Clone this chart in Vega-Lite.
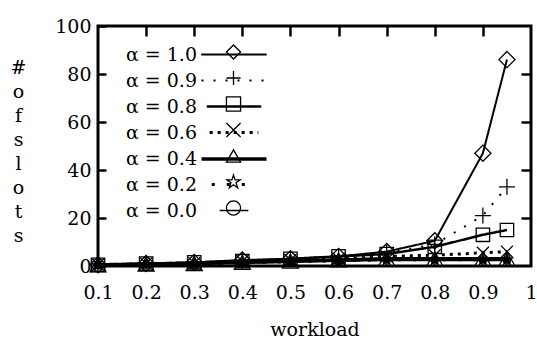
{
  "$schema": "https://vega.github.io/schema/vega-lite/v6.json",
  "width": 433,
  "height": 240,
  "autosize": "none",
  "padding": {"left": 98, "top": 26, "right": 6, "bottom": 77},
  "background": "white",
  "config": {
    "view": {"stroke": "black", "strokeWidth": 3},
    "font": "DejaVu Serif",
    "axis": {"grid": false, "domain": false, "labelFont": "DejaVu Serif", "titleFont": "DejaVu Serif", "labelFontSize": 19, "titleFontSize": 19, "labelColor": "black", "titleColor": "black", "titleFontWeight": "normal", "tickColor": "black", "tickWidth": 2.5},
    "legend": {"labelFont": "DejaVu Serif", "labelFontSize": 19, "labelColor": "black"}
  },
  "data": {"values": [
    {"x":0.1,"y":0.5,"alpha":"α = 1.0"},{"x":0.2,"y":1,"alpha":"α = 1.0"},{"x":0.3,"y":1.5,"alpha":"α = 1.0"},{"x":0.4,"y":2.5,"alpha":"α = 1.0"},{"x":0.5,"y":3,"alpha":"α = 1.0"},{"x":0.6,"y":4,"alpha":"α = 1.0"},{"x":0.7,"y":6,"alpha":"α = 1.0"},{"x":0.8,"y":10.5,"alpha":"α = 1.0"},{"x":0.9,"y":47,"alpha":"α = 1.0"},{"x":0.95,"y":86,"alpha":"α = 1.0"},
    {"x":0.1,"y":0.5,"alpha":"α = 0.9"},{"x":0.2,"y":1,"alpha":"α = 0.9"},{"x":0.3,"y":1.5,"alpha":"α = 0.9"},{"x":0.4,"y":2,"alpha":"α = 0.9"},{"x":0.5,"y":3,"alpha":"α = 0.9"},{"x":0.6,"y":4,"alpha":"α = 0.9"},{"x":0.7,"y":5.5,"alpha":"α = 0.9"},{"x":0.8,"y":9,"alpha":"α = 0.9"},{"x":0.9,"y":21,"alpha":"α = 0.9"},{"x":0.95,"y":33,"alpha":"α = 0.9"},
    {"x":0.1,"y":0.5,"alpha":"α = 0.8"},{"x":0.2,"y":1,"alpha":"α = 0.8"},{"x":0.3,"y":1.5,"alpha":"α = 0.8"},{"x":0.4,"y":2,"alpha":"α = 0.8"},{"x":0.5,"y":3,"alpha":"α = 0.8"},{"x":0.6,"y":4,"alpha":"α = 0.8"},{"x":0.7,"y":5,"alpha":"α = 0.8"},{"x":0.8,"y":8,"alpha":"α = 0.8"},{"x":0.9,"y":13,"alpha":"α = 0.8"},{"x":0.95,"y":15,"alpha":"α = 0.8"},
    {"x":0.1,"y":0.5,"alpha":"α = 0.6"},{"x":0.2,"y":1,"alpha":"α = 0.6"},{"x":0.3,"y":1.2,"alpha":"α = 0.6"},{"x":0.4,"y":2,"alpha":"α = 0.6"},{"x":0.5,"y":2.5,"alpha":"α = 0.6"},{"x":0.6,"y":3,"alpha":"α = 0.6"},{"x":0.7,"y":4,"alpha":"α = 0.6"},{"x":0.8,"y":4.5,"alpha":"α = 0.6"},{"x":0.9,"y":5.5,"alpha":"α = 0.6"},{"x":0.95,"y":6,"alpha":"α = 0.6"},
    {"x":0.1,"y":0.5,"alpha":"α = 0.4"},{"x":0.2,"y":0.8,"alpha":"α = 0.4"},{"x":0.3,"y":1,"alpha":"α = 0.4"},{"x":0.4,"y":1.5,"alpha":"α = 0.4"},{"x":0.5,"y":2,"alpha":"α = 0.4"},{"x":0.6,"y":2.5,"alpha":"α = 0.4"},{"x":0.7,"y":3,"alpha":"α = 0.4"},{"x":0.8,"y":3,"alpha":"α = 0.4"},{"x":0.9,"y":3,"alpha":"α = 0.4"},{"x":0.95,"y":3,"alpha":"α = 0.4"},
    {"x":0.1,"y":0.4,"alpha":"α = 0.2"},{"x":0.2,"y":0.7,"alpha":"α = 0.2"},{"x":0.3,"y":1,"alpha":"α = 0.2"},{"x":0.4,"y":1.3,"alpha":"α = 0.2"},{"x":0.5,"y":1.8,"alpha":"α = 0.2"},{"x":0.6,"y":2.2,"alpha":"α = 0.2"},{"x":0.7,"y":2.6,"alpha":"α = 0.2"},{"x":0.8,"y":2.6,"alpha":"α = 0.2"},{"x":0.9,"y":2.6,"alpha":"α = 0.2"},{"x":0.95,"y":2.6,"alpha":"α = 0.2"},
    {"x":0.1,"y":0.3,"alpha":"α = 0.0"},{"x":0.2,"y":0.6,"alpha":"α = 0.0"},{"x":0.3,"y":0.9,"alpha":"α = 0.0"},{"x":0.4,"y":1.2,"alpha":"α = 0.0"},{"x":0.5,"y":1.6,"alpha":"α = 0.0"},{"x":0.6,"y":2,"alpha":"α = 0.0"},{"x":0.7,"y":2.3,"alpha":"α = 0.0"},{"x":0.8,"y":2.3,"alpha":"α = 0.0"},{"x":0.9,"y":2.3,"alpha":"α = 0.0"},{"x":0.95,"y":2.3,"alpha":"α = 0.0"}
  ]},
  "resolve": {"axis": {"x": "independent", "y": "independent"}},
  "layer": [
    {
      "mark": {"type": "line", "color": "black"},
      "encoding": {
        "x": {"field": "x", "type": "quantitative", "scale": {"domain": [0.1, 1], "nice": false, "zero": false},
              "axis": {"orient": "bottom", "values": [0.1,0.2,0.3,0.4,0.5,0.6,0.7,0.8,0.9,1], "ticks": false, "labelPadding": 17, "labelExpr": "datum.value == 1 ? '1' : format(datum.value, '.1f')", "labelFlush": false, "title": "workload", "titlePadding": 18}},
        "y": {"field": "y", "type": "quantitative", "scale": {"domain": [0, 100], "nice": false},
              "axis": {"orient": "left", "values": [0,20,40,60,80,100], "tickSize": -8, "labelPadding": 15, "labelFlush": false,
                       "title": ["#","o","f","s","l","o","t","s"], "titleAngle": 0, "titleX": -80, "titleY": 32, "titleAlign": "center", "titleBaseline": "top", "titleLineHeight": 24}},
        "strokeDash": {"field": "alpha", "type": "nominal", "sort": "descending",
          "scale": {"range": [[1,0],[2,10],[1,0],[3,5],[1,0],[3,12],[1,0]]},
          "legend": {"orient": "none", "legendX": 126, "legendY": 19, "title": null, "symbolType": "M-4.06,0L4.06,0", "symbolStrokeColor": "black", "symbolStrokeWidth": 2.5, "labelAlign": "right", "labelOffset": -47, "rowPadding": 6, "padding": 0,
                     "encode": {"symbols": {"update": {"stroke": {"value": "black"}, "opacity": {"value": 1},
                       "strokeWidth": [{"test": "datum.value === 'α = 0.0'", "value": 1.5}, {"test": "datum.value === 'α = 0.9'", "value": 2}, {"test": "datum.value === 'α = 0.4'", "value": 3.5}, {"test": "datum.value === 'α = 0.6' || datum.value === 'α = 0.2'", "value": 3}, {"value": 2.5}]}}}}},
        "strokeWidth": {"field": "alpha", "type": "nominal", "sort": "descending",
          "scale": {"type": "ordinal", "range": [2, 2, 2.5, 3, 3.5, 3, 1.5]}, "legend": null}
      }
    },
    {
      "mark": {"type": "point", "filled": true, "stroke": "black", "strokeWidth": 1.3, "opacity": 1},
      "encoding": {
        "x": {"field": "x", "type": "quantitative", "scale": {"domain": [0.1, 1], "nice": false, "zero": false},
              "axis": {"orient": "top", "values": [0.2,0.3,0.4,0.5,0.6,0.7,0.8,0.9], "tickSize": -10, "labels": false, "title": null}},
        "y": {"field": "y", "type": "quantitative", "scale": {"domain": [0, 100], "nice": false},
              "axis": {"orient": "right", "values": [20,40,60,80], "tickSize": -10, "labels": false, "title": null}},
        "fill": {"condition": [{"test": "datum.alpha === 'α = 0.2' || datum.value === 'α = 0.2'", "value": "black"}, {"test": "isString(datum.value)", "value": "white"}], "value": "transparent"},
        "shape": {"field": "alpha", "type": "nominal", "sort": "descending",
          "scale": {"range": ["diamond", "M-1,0L1,0M0,-1L0,1", "square", "M-1,-1L1,1M-1,1L1,-1", "triangle-up", "M0,-1L0.223,-0.307L0.951,-0.309L0.361,0.117L0.588,0.809L0,0.38L-0.588,0.809L-0.361,0.117L-0.951,-0.309L-0.223,-0.307Z", "circle"]},
          "legend": {"orient": "left", "offset": -246, "title": null, "labelExpr": "''", "labelOffset": 0, "clipHeight": 26, "rowPadding": 0, "padding": 13, "symbolSize": 200, "symbolStrokeColor": "black", "symbolStrokeWidth": 1.3,
                     "encode": {"symbols": {"update": {
                       "size": [{"test": "datum.value === 'α = 0.0'", "value": 50}, {"test": "datum.value === 'α = 0.2'", "value": 120}, {"test": "datum.value === 'α = 0.6'", "value": 144}, {"test": "datum.value === 'α = 0.8'", "value": 180}, {"value": 256}],
                       "stroke": {"value": "black"}, "opacity": {"value": 1}}}}}},
        "size": {"field": "alpha", "type": "nominal", "sort": "descending",
          "scale": {"type": "ordinal", "range": [260, 256, 180, 144, 256, 120, 50]}, "legend": null}
      }
    }
  ]
}
